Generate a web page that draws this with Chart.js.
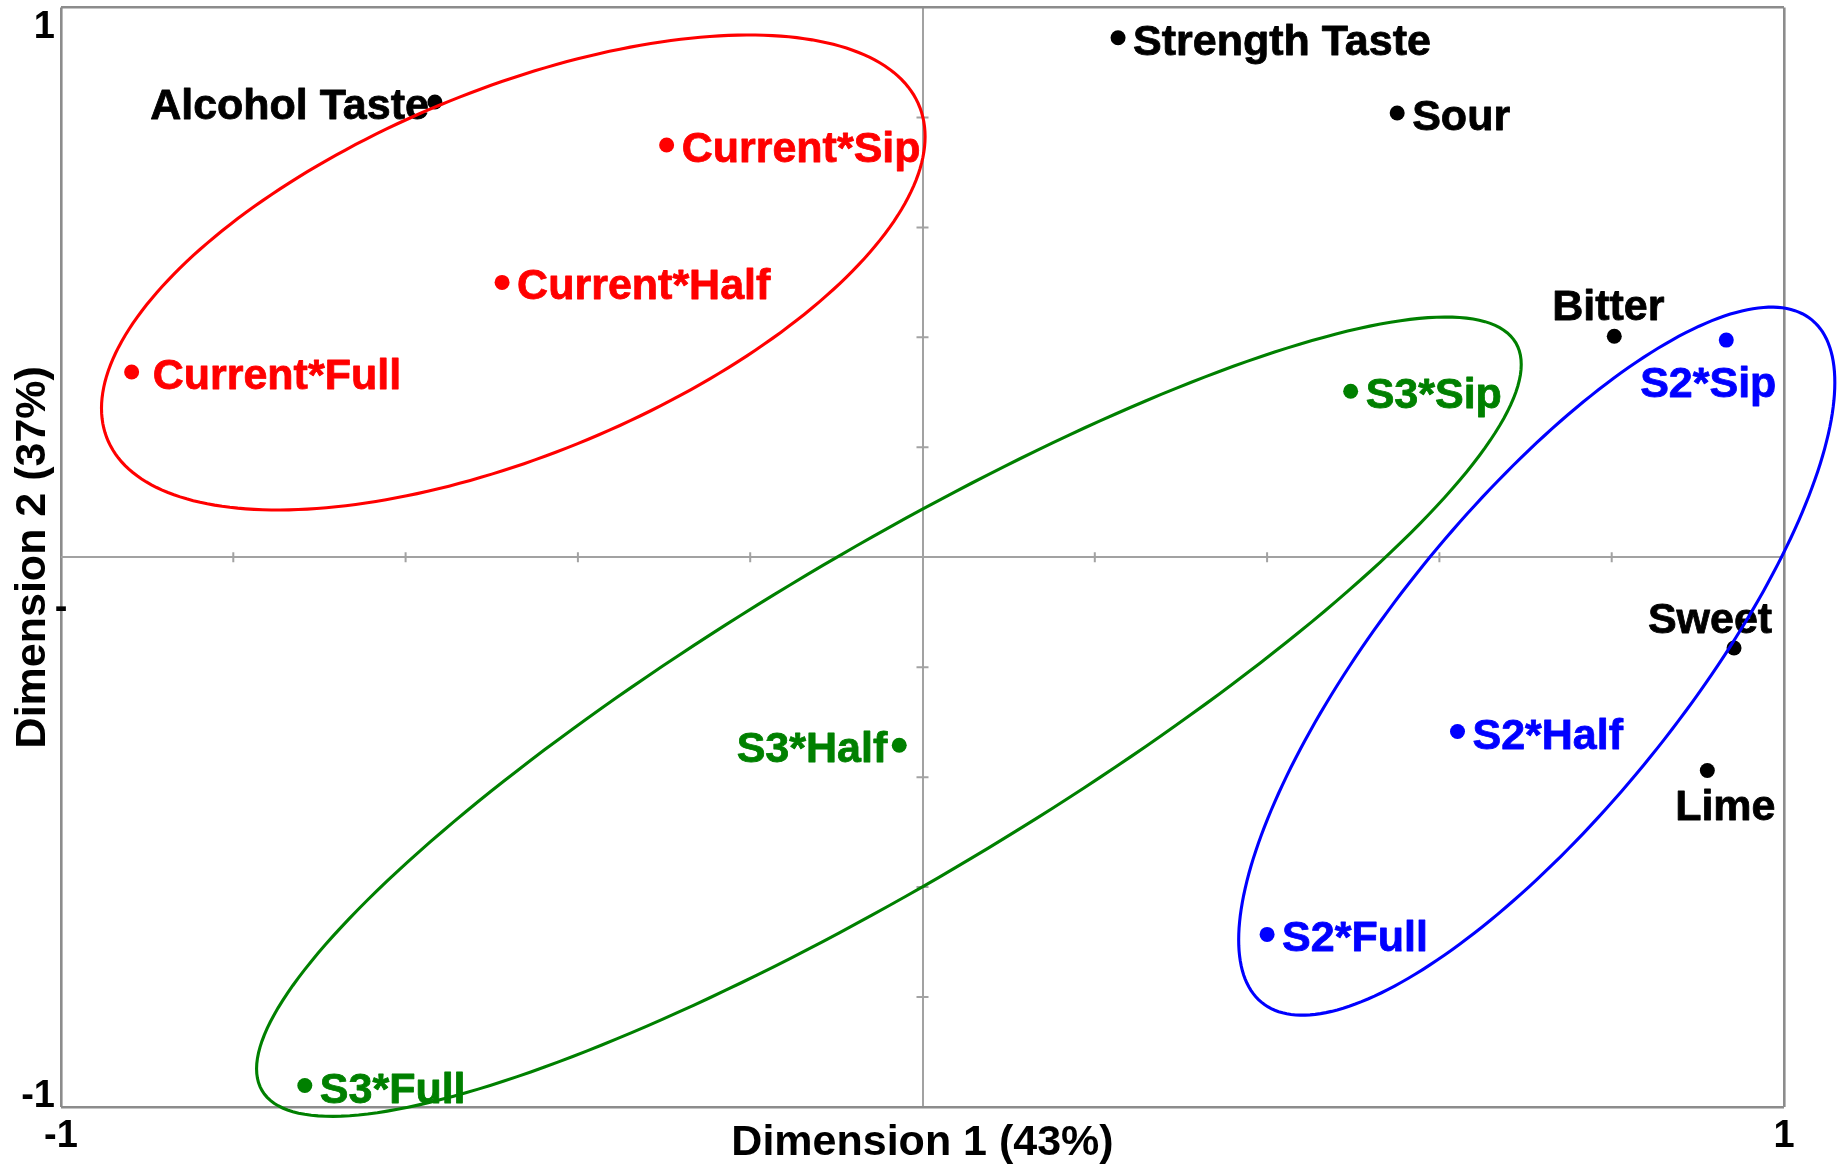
<!DOCTYPE html>
<html>
<head>
<meta charset="utf-8">
<script src="https://cdn.jsdelivr.net/npm/chart.js@4/dist/chart.umd.min.js"></script>
<style>
  html, body { margin: 0; padding: 0; background: #fff; }
</style>
</head>
<body>
<canvas id="myChart_map" width="1843" height="1166"></canvas>
<script>
// Sensory attributes (black)
const attributeNames = ['Alcohol Taste', 'Strength Taste', 'Sour', 'Bitter', 'Sweet', 'Lime'];
const attributeX = [-0.566, 0.227, 0.551, 0.803, 0.942, 0.911];
const attributeY = [0.828, 0.945, 0.808, 0.402, -0.165, -0.388];

// Products by serving
const currentNames = ['Current*Sip', 'Current*Half', 'Current*Full'];
const currentX = [-0.297, -0.488, -0.918];
const currentY = [0.750, 0.500, 0.337];

const s3Names = ['S3*Sip', 'S3*Half', 'S3*Full'];
const s3X = [0.497, -0.027, -0.717];
const s3Y = [0.302, -0.342, -0.961];

const s2Names = ['S2*Sip', 'S2*Half', 'S2*Full'];
const s2X = [0.933, 0.621, 0.400];
const s2Y = [0.395, -0.317, -0.686];

// Group ellipses: Current, S3, S2 (centre, half extent on each axis, correlation)
const ellipseCx = [-0.475, -0.039, 0.713];
const ellipseCy = [0.518, -0.290, -0.189];
const ellipseHalfW = [0.478, 0.734, 0.346];
const ellipseHalfH = [0.432, 0.727, 0.644];
const ellipseCorr = [0.572, 0.881, 0.787];

// Axis tick labels
const xTickValues = [-1, 1];
const xTickLabels = ['-1', '1'];
const yTickValues = [1, -0.093, -1];
const yTickLabels = ['1', '-', '-1'];

const groupColors = ['#ff0000', '#008000', '#0000ff'];
const labelFont = 'bold 43px "Liberation Sans", Arial, sans-serif';
const axisGrey = '#8c8c8c';
const lineGrey = '#a2a2a2';

// where each label sits relative to its dot
const labelPlacement = {
	'Alcohol Taste': { align: 'right', dx: -6, dy: 17 },
	'Bitter': { align: 'center', dx: -6, dy: -16 },
	'Sweet': { align: 'center', dx: -24, dy: -15 },
	'Lime': { align: 'center', dx: 18, dy: 49 },
	'S2*Sip': { align: 'center', dx: -18, dy: 57 },
	'S3*Half': { align: 'right', dx: -12, dy: 17 },
	'Current*Full': { align: 'left', dx: 21, dy: 17 },
	default: { align: 'left', dx: 15, dy: 17 },
};

function toPoints(xs, ys) {
	return xs.map((v, i) => ({ x: v, y: ys[i] }));
}

function isEdgeOrZero(v) {
	return Math.abs(v) < 1e-9 || Math.abs(Math.abs(v) - 1) < 1e-9;
}

// small tick marks along the two centre lines
const centreTicks = {
	id: 'centreTicks',
	beforeDatasetsDraw(chart) {
		const { ctx, scales: { x, y } } = chart;
		const x0 = x.getPixelForValue(0);
		const y0 = y.getPixelForValue(0);
		ctx.save();
		ctx.strokeStyle = lineGrey;
		ctx.lineWidth = 2;
		ctx.beginPath();
		x.ticks.forEach(t => {
			if (isEdgeOrZero(t.value)) return;
			const px = x.getPixelForValue(t.value);
			ctx.moveTo(px, y0 - 5);
			ctx.lineTo(px, y0 + 5);
		});
		y.ticks.forEach(t => {
			if (isEdgeOrZero(t.value)) return;
			const py = y.getPixelForValue(t.value);
			ctx.moveTo(x0 - 6, py);
			ctx.lineTo(x0 + 6, py);
		});
		ctx.stroke();

		// y tick labels sit inside the ends of the axis
		ctx.fillStyle = '#000';
		ctx.font = 'bold 38px "Liberation Sans", Arial, sans-serif';
		yTickValues.forEach((v, i) => {
			const py = y.getPixelForValue(v);
			if (yTickLabels[i] === '-') {
				ctx.textAlign = 'center';
				ctx.textBaseline = 'middle';
				ctx.fillText(yTickLabels[i], chart.chartArea.left, py);
				return;
			}
			ctx.textAlign = 'right';
			ctx.textBaseline = v > 0 ? 'top' : 'alphabetic';
			ctx.fillText(yTickLabels[i], chart.chartArea.left - 6, v > 0 ? py + 1 : py);
		});
		ctx.restore();
	}
};

// text next to every point
const pointLabels = {
	id: 'pointLabels',
	afterDatasetsDraw(chart) {
		const ctx = chart.ctx;
		ctx.save();
		ctx.font = labelFont;
		ctx.textBaseline = 'alphabetic';
		ctx.lineWidth = 0.8;
		ctx.lineJoin = 'round';
		chart.data.datasets.forEach((ds, di) => {
			const meta = chart.getDatasetMeta(di);
			meta.data.forEach((pt, i) => {
				const name = ds.names[i];
				const p = labelPlacement[name] || labelPlacement.default;
				ctx.fillStyle = ds.backgroundColor;
				ctx.strokeStyle = ds.backgroundColor;
				ctx.textAlign = p.align;
				ctx.fillText(name, pt.x + p.dx, pt.y + p.dy);
				ctx.strokeText(name, pt.x + p.dx, pt.y + p.dy);
			});
		});
		ctx.restore();
	}
};

// one ellipse per product group, drawn over the labels
const groupEllipses = {
	id: 'groupEllipses',
	afterDatasetsDraw(chart) {
		const { ctx, scales: { x, y } } = chart;
		ctx.save();
		ctx.lineWidth = 3.1;
		for (let i = 0; i < ellipseCx.length; i++) {
			const r = ellipseCorr[i];
			const q = Math.sqrt(1 - r * r);
			ctx.strokeStyle = groupColors[i];
			ctx.beginPath();
			for (let k = 0; k <= 240; k++) {
				const t = k / 240 * Math.PI * 2;
				const vx = ellipseCx[i] + ellipseHalfW[i] * Math.cos(t);
				const vy = ellipseCy[i] + ellipseHalfH[i] * (r * Math.cos(t) + q * Math.sin(t));
				const px = x.getPixelForValue(vx);
				const py = y.getPixelForValue(vy);
				if (k === 0) ctx.moveTo(px, py); else ctx.lineTo(px, py);
			}
			ctx.closePath();
			ctx.stroke();
		}
		ctx.restore();
	}
};

const gridColor = c => (isEdgeOrZero(c.tick.value) ? (Math.abs(c.tick.value) < 1e-9 ? lineGrey : axisGrey) : 'transparent');
const gridWidth = c => (Math.abs(c.tick.value) < 1e-9 ? 2 : 2.6);

const ctx_map = document.getElementById('myChart_map').getContext('2d');
const myChart_map = new Chart(ctx_map, {
	type: 'scatter',
	data: {
		datasets: [{
			label: 'Attributes',
			names: attributeNames,
			data: toPoints(attributeX, attributeY),
			backgroundColor: '#000000',
		}, {
			label: 'Current',
			names: currentNames,
			data: toPoints(currentX, currentY),
			backgroundColor: groupColors[0],
		}, {
			label: 'S3',
			names: s3Names,
			data: toPoints(s3X, s3Y),
			backgroundColor: groupColors[1],
		}, {
			label: 'S2',
			names: s2Names,
			data: toPoints(s2X, s2Y),
			backgroundColor: groupColors[2],
		}]
	},
	options: {
		responsive: false,
		animation: false,
		events: [],
		elements: {
			point: { radius: 7.5, borderWidth: 0 }
		},
		layout: {
			padding: { top: 7, right: 59, left: 0, bottom: 0 }
		},
		scales: {
			x: {
				type: 'linear',
				min: -1,
				max: 1,
				ticks: {
					stepSize: 0.2,
					autoSkip: false,
					maxRotation: 0,
					padding: 7,
					color: '#000',
					font: { family: '"Liberation Sans", Arial, sans-serif', size: 38, weight: 'bold' },
					callback: function (value) {
						const i = xTickValues.findIndex(v => Math.abs(v - value) < 1e-9);
						return i >= 0 ? xTickLabels[i] : '';
					}
				},
				grid: {
					drawTicks: false,
					color: gridColor,
					lineWidth: gridWidth,
				},
				border: { display: false },
				title: {
					display: true,
					text: 'Dimension 1 (43%)',
					color: '#000',
					font: { family: '"Liberation Sans", Arial, sans-serif', size: 43, weight: 'bold', lineHeight: 1.1 },
					padding: { top: 0, bottom: -1 },
				},
				afterFit: function (scale) { scale.height = 59; },
			},
			y: {
				type: 'linear',
				min: -1,
				max: 1,
				ticks: {
					stepSize: 0.2,
					autoSkip: false,
					display: false,
				},
				grid: {
					drawTicks: false,
					color: gridColor,
					lineWidth: gridWidth,
				},
				border: { display: false },
				title: {
					display: true,
					text: 'Dimension 2 (37%)',
					color: '#000',
					font: { family: '"Liberation Sans", Arial, sans-serif', size: 43, weight: 'bold', lineHeight: 1.1 },
					padding: { top: 9, bottom: 0 },
				},
				afterFit: function (scale) { scale.width = 61; },
			},
		},
		plugins: {
			legend: { display: false },
			title: { display: false },
			tooltip: { enabled: false },
		}
	},
	plugins: [centreTicks, pointLabels, groupEllipses]
});
</script>
</body>
</html>
